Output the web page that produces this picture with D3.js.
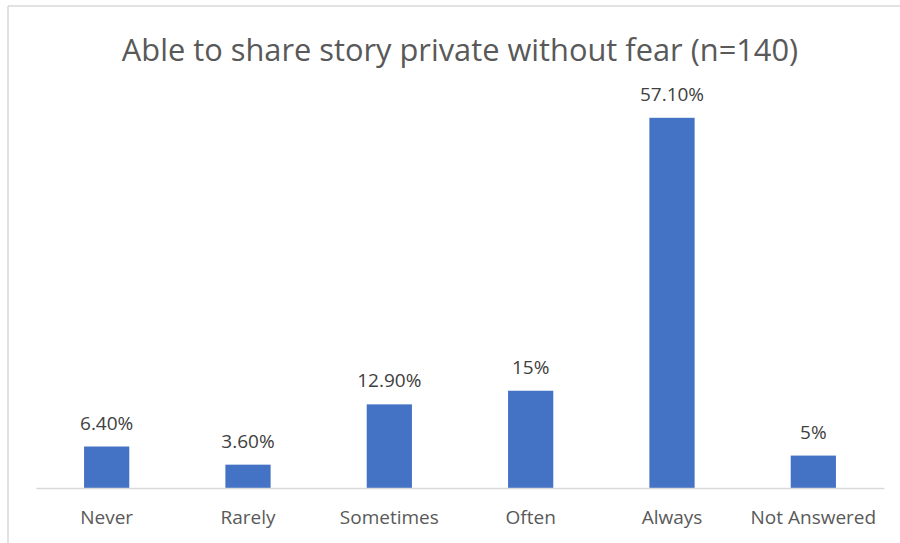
<!DOCTYPE html>
<html>
<head>
<meta charset="utf-8">
<script src="https://cdn.jsdelivr.net/npm/d3@7"></script>
<style>
  html, body { margin: 0; padding: 0; background: #fff; }
  svg { display: block; font-family: "Open Sans", "Noto Sans", sans-serif; }
</style>
</head>
<body>
<svg id="chart" width="900" height="543"></svg>
<script>
// Survey responses: share of respondents (%)
const categories = ["Never", "Rarely", "Sometimes", "Often", "Always", "Not Answered"];
const values = [6.4, 3.6, 12.9, 15, 57.1, 5];
const valueLabels = ["6.40%", "3.60%", "12.90%", "15%", "57.10%", "5%"];
const titleText = "Able to share story private without fear (n=140)";

const svg = d3.select("#chart");
const W = 900, H = 543;

// chart frame (only top and left edges fall inside the view)
svg.append("line").attr("x1", 8).attr("x2", W).attr("y1", 6).attr("y2", 6)
  .attr("stroke", "#d9d9d9").attr("stroke-width", 1.5);
svg.append("line").attr("x1", 8).attr("x2", 8).attr("y1", 6).attr("y2", H)
  .attr("stroke", "#d9d9d9").attr("stroke-width", 1.5);

const plot = { left: 36, right: 884, top: 99, bottom: 488 };

const x = d3.scaleBand()
  .domain(categories)
  .range([plot.left, plot.right])
  .paddingInner(0.68)
  .paddingOuter(0.34);

const y = d3.scaleLinear()
  .domain([0, 60])
  .range([plot.bottom, plot.top]);

// title
svg.append("text")
  .attr("x", (plot.left + plot.right) / 2)
  .attr("y", 61)
  .attr("text-anchor", "middle")
  .attr("fill", "#595959")
  .attr("font-size", 30.8)
  .text(titleText);

const data = categories.map((c, i) => ({ c, v: values[i], label: valueLabels[i] }));

// bars
svg.append("g").selectAll("rect")
  .data(data)
  .join("rect")
  .attr("x", d => x(d.c))
  .attr("y", d => y(d.v))
  .attr("width", x.bandwidth())
  .attr("height", d => y(0) - y(d.v))
  .attr("fill", "#4472c4");

// value labels
svg.append("g").selectAll("text")
  .data(data)
  .join("text")
  .attr("x", d => x(d.c) + x.bandwidth() / 2)
  .attr("y", d => y(d.v) - 17)
  .attr("text-anchor", "middle")
  .attr("fill", "#404040")
  .attr("font-size", 19)
  .text(d => d.label);

// category axis
const xAxis = d3.axisBottom(x).tickSize(0).tickPadding(23);
const gx = svg.append("g")
  .attr("transform", `translate(0,${plot.bottom})`)
  .call(xAxis);
gx.select(".domain").attr("stroke", "#d9d9d9").attr("stroke-width", 1.5);
gx.selectAll("text")
  .attr("fill", "#595959")
  .attr("font-size", 19)
  .attr("font-family", "\"Open Sans\", \"Noto Sans\", sans-serif");
</script>
</body>
</html>
